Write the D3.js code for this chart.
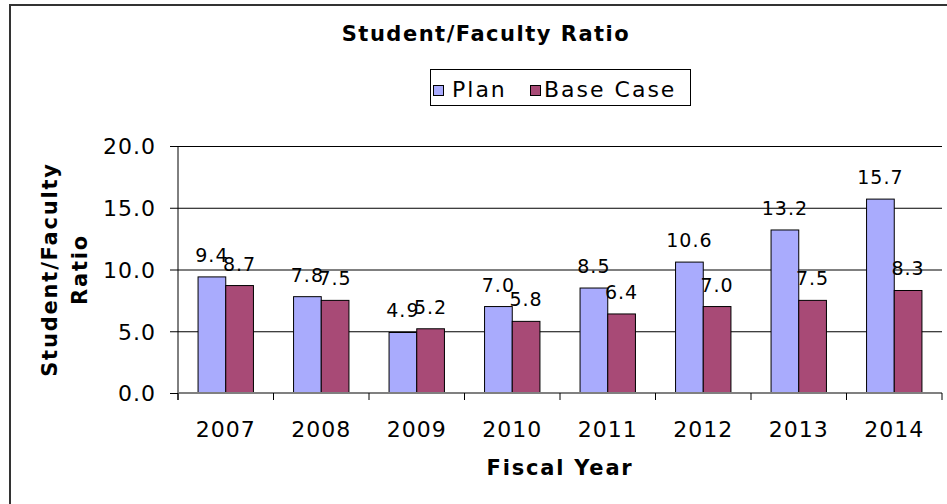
<!DOCTYPE html>
<html lang="en">
<head>
    <meta charset="UTF-8">
    <title>Student/Faculty Ratio</title>
    <script src="https://d3js.org/d3.v7.min.js"></script>
    <style>
        body { margin: 0; background: #fff; }
        svg text { font-family: "DejaVu Sans", Verdana, sans-serif; fill: #000; }
        .bar { stroke: #000; stroke-width: 1; }
    </style>
</head>
<body>
    <svg width="947" height="504"></svg>

    <script>
        // chart data
        const years = ["2007", "2008", "2009", "2010", "2011", "2012", "2013", "2014"];
        const series = ["Plan", "Base Case"];
        const planValues = [9.4, 7.8, 4.9, 7.0, 8.5, 10.6, 13.2, 15.7];
        const baseValues = [8.7, 7.5, 5.2, 5.8, 6.4, 7.0, 7.5, 8.3];
        const yTicks = [0, 5, 10, 15, 20];
        const colors = ["#a9abfd", "#a84a76"];

        const rows = years.map((yr, i) => ({ year: yr, values: [planValues[i], baseValues[i]] }));

        // plot area
        const plot = { left: 178, right: 942, top: 146, bottom: 393 };

        const svg = d3.select("svg");

        // outer frame (runs off the right/bottom edge)
        svg.append("rect")
            .attr("x", 10).attr("y", 5)
            .attr("width", 1000).attr("height", 600)
            .attr("fill", "#fff")
            .attr("stroke", "#333").attr("stroke-width", 2);

        const x = d3.scaleBand()
            .domain(years)
            .range([plot.left, plot.right]);

        const bw = x.bandwidth();
        const xInner = d3.scaleBand()
            .domain(series)
            .range([bw * 0.21, bw * 0.79]);

        const y = d3.scaleLinear()
            .domain([0, 20])
            .range([plot.bottom, plot.top]);

        // gridlines
        svg.append("g")
            .attr("transform", "translate(" + plot.left + ",0)")
            .call(d3.axisLeft(y).tickValues(yTicks.slice(1)).tickSize(-(plot.right - plot.left)).tickFormat(""))
            .call(g => g.select(".domain").remove())
            .call(g => g.selectAll("line").attr("stroke", "#000"));

        // y axis with ticks + labels
        const yAxis = svg.append("g")
            .attr("transform", "translate(" + plot.left + ",0)")
            .call(d3.axisLeft(y).tickValues(yTicks).tickSize(8).tickPadding(14).tickFormat(d3.format(".1f")));
        yAxis.select(".domain").remove();
        yAxis.selectAll("line").attr("stroke", "#000");
        yAxis.selectAll("text")
            .attr("font-size", 22)
            .attr("letter-spacing", 1)
            .attr("dy", "0.36em");

        svg.append("line")
            .attr("x1", plot.left).attr("x2", plot.left)
            .attr("y1", plot.top).attr("y2", plot.bottom + 7)
            .attr("stroke", "#000");

        // bars
        const groups = svg.append("g").selectAll("g")
            .data(rows)
            .join("g")
            .attr("transform", d => "translate(" + x(d.year) + ",0)");

        groups.selectAll("rect")
            .data(d => d.values.map((v, i) => ({ key: series[i], value: v, idx: i })))
            .join("rect")
            .attr("class", "bar")
            .attr("x", d => xInner(d.key))
            .attr("y", d => y(d.value))
            .attr("width", xInner.bandwidth())
            .attr("height", d => y(0) - y(d.value))
            .attr("fill", d => colors[d.idx]);

        // x axis
        svg.append("line")
            .attr("x1", plot.left).attr("x2", plot.right)
            .attr("y1", plot.bottom).attr("y2", plot.bottom)
            .attr("stroke", "#808080").attr("stroke-width", 2);

        svg.append("g").selectAll("line")
            .data(years.concat(["end"]))
            .join("line")
            .attr("x1", (d, i) => plot.left + i * bw)
            .attr("x2", (d, i) => plot.left + i * bw)
            .attr("y1", plot.bottom).attr("y2", plot.bottom + 7)
            .attr("stroke", "#000");

        svg.append("g").selectAll("text")
            .data(years)
            .join("text")
            .attr("x", d => x(d) + bw / 2)
            .attr("y", 437)
            .attr("text-anchor", "middle")
            .attr("font-size", 22)
            .attr("letter-spacing", 1)
            .text(d => d);

        // data labels
        groups.selectAll("text.lbl")
            .data(d => d.values.map((v, i) => ({ key: series[i], value: v })))
            .join("text")
            .attr("class", "lbl")
            .attr("x", d => xInner(d.key) + xInner.bandwidth() / 2)
            .attr("y", d => y(d.value) - 15)
            .attr("text-anchor", "middle")
            .attr("font-size", 19)
            .attr("letter-spacing", 1)
            .text(d => d.value.toFixed(1));

        // title
        svg.append("text")
            .attr("x", 486).attr("y", 41)
            .attr("text-anchor", "middle")
            .attr("font-size", 21).attr("font-weight", "bold")
            .attr("letter-spacing", 1.5)
            .text("Student/Faculty Ratio");

        // axis titles
        svg.append("text")
            .attr("x", (plot.left + plot.right) / 2).attr("y", 475)
            .attr("text-anchor", "middle")
            .attr("font-size", 21).attr("font-weight", "bold")
            .attr("letter-spacing", 1.8)
            .text("Fiscal Year");

        const yTitle = svg.append("text")
            .attr("transform", "translate(0," + ((plot.top + plot.bottom) / 2) + ") rotate(-90)")
            .attr("text-anchor", "middle")
            .attr("font-size", 21).attr("font-weight", "bold")
            .attr("letter-spacing", 1.8);
        yTitle.append("tspan").attr("x", 0).attr("y", 57).text("Student/Faculty");
        yTitle.append("tspan").attr("x", 0).attr("y", 87).text("Ratio");

        // legend
        const legend = svg.append("g");
        legend.append("rect")
            .attr("x", 430.5).attr("y", 69.5)
            .attr("width", 260).attr("height", 36)
            .attr("fill", "#fff").attr("stroke", "#000");

        const swatchX = [433, 530];
        const labelX = [452, 544];
        legend.selectAll("rect.sw")
            .data(series)
            .join("rect")
            .attr("class", "sw")
            .attr("x", (d, i) => swatchX[i] + 0.5).attr("y", 85.5)
            .attr("width", 10).attr("height", 10)
            .attr("fill", (d, i) => colors[i])
            .attr("stroke", "#000");
        legend.selectAll("text")
            .data(series)
            .join("text")
            .attr("x", (d, i) => labelX[i]).attr("y", 97)
            .attr("font-size", 22)
            .attr("letter-spacing", 2)
            .text(d => d);
    </script>
</body>
</html>
